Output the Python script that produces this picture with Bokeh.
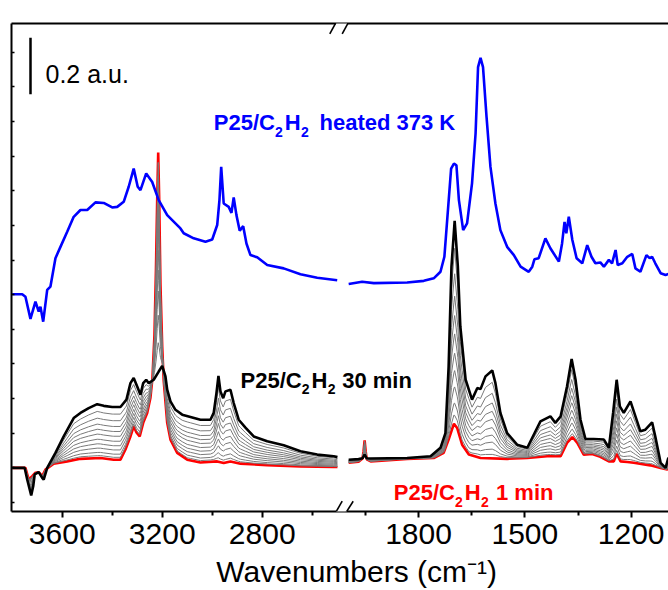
import numpy as np
from bokeh.plotting import figure
from bokeh.models import Range1d, LinearAxis, FixedTicker, Label, Arrow
from bokeh.embed import file_html
from bokeh.resources import INLINE

# ---------------- data (wavenumber in cm-1, absorbance in a.u.) ----------------
# left window (3800-2500 cm-1)
blue_l_wn = [3800, 3760, 3747, 3727, 3707, 3694, 3687, 3676, 3660, 3647, 3627, 3607, 3580, 3554,
             3527, 3500, 3467, 3434, 3400, 3380, 3354, 3334, 3314, 3298, 3287, 3264, 3240, 3214,
             3180, 3127, 3114, 3074, 3027, 3000, 2980, 2971, 2964, 2954, 2934, 2923, 2914, 2903,
             2890, 2876, 2863, 2847, 2820, 2780, 2714, 2647, 2580, 2500]
blue_l_ab = [0.765, 0.765, 0.756, 0.678, 0.739, 0.704, 0.721, 0.668, 0.780, 0.792, 0.892, 0.932, 0.985, 1.038,
             1.062, 1.062, 1.089, 1.087, 1.071, 1.073, 1.091, 1.144, 1.208, 1.144, 1.132, 1.191, 1.161, 1.097,
             1.044, 0.997, 0.980, 0.962, 0.950, 0.958, 1.009, 1.097, 1.214, 1.085, 1.073, 1.052, 1.106, 1.044,
             0.989, 1.005, 0.944, 0.903, 0.895, 0.868, 0.856, 0.835, 0.823, 0.814]

red_l_wn = [3800, 3747, 3734, 3720, 3707, 3694, 3680, 3667, 3634, 3580, 3527, 3447, 3394, 3367,
            3347, 3327, 3314, 3303, 3290, 3276, 3260, 3247, 3239, 3231, 3225, 3220, 3216, 3212,
            3207, 3200, 3194, 3180, 3167, 3140, 3100, 3047, 2980, 2954, 2927, 2887, 2780, 2647,
            2514, 2499]
red_l_ab = [0.152, 0.152, 0.111, 0.123, 0.135, 0.137, 0.123, 0.146, 0.167, 0.175, 0.184, 0.187, 0.181, 0.181,
            0.217, 0.263, 0.299, 0.277, 0.263, 0.311, 0.346, 0.400, 0.470, 0.620, 0.850, 1.100, 1.265, 1.100,
            0.800, 0.580, 0.460, 0.311, 0.252, 0.205, 0.181, 0.171, 0.175, 0.169, 0.175, 0.167, 0.162, 0.157,
            0.155, 0.155]

black_l_wn = [3800, 3750, 3740, 3724, 3716, 3710, 3694, 3680, 3674, 3660, 3627, 3594, 3554, 3527,
              3494, 3460, 3434, 3400, 3367, 3343, 3327, 3314, 3300, 3287, 3276, 3264, 3254, 3234,
              3214, 3200, 3187, 3180, 3167, 3147, 3120, 3087, 3047, 3007, 2994, 2983, 2975, 2967,
              2956, 2947, 2927, 2914, 2894, 2867, 2834, 2780, 2714, 2647, 2580, 2514, 2499]
black_l_ab = [0.152, 0.152, 0.111, 0.055, 0.087, 0.129, 0.137, 0.117, 0.111, 0.152, 0.205, 0.263, 0.328, 0.346,
              0.363, 0.377, 0.371, 0.367, 0.367, 0.393, 0.451, 0.469, 0.439, 0.410, 0.451, 0.463, 0.451, 0.463,
              0.492, 0.512, 0.475, 0.428, 0.387, 0.357, 0.340, 0.332, 0.322, 0.322, 0.346, 0.416, 0.477, 0.422,
              0.398, 0.422, 0.428, 0.381, 0.322, 0.294, 0.263, 0.246, 0.232, 0.211, 0.199, 0.193, 0.190]

# right window (2000-1095 cm-1)
blue_r_wn = [1997, 1959, 1926, 1832, 1785, 1757, 1738, 1727, 1708, 1700, 1693, 1686, 1674, 1663,
             1649, 1639, 1632, 1625, 1618, 1608, 1597, 1583, 1569, 1550, 1531, 1512, 1489, 1479,
             1473, 1461, 1442, 1428, 1404, 1395, 1388, 1383, 1376, 1366, 1354, 1338, 1324, 1312,
             1301, 1287, 1277, 1263, 1254, 1244, 1238, 1225, 1211, 1197, 1188, 1174, 1157, 1148,
             1141, 1132, 1117, 1103, 1095]
blue_r_ab = [0.801, 0.809, 0.804, 0.806, 0.812, 0.821, 0.844, 0.897, 1.208, 1.226, 1.220, 1.097, 0.991, 1.015,
             1.156, 1.332, 1.566, 1.599, 1.566, 1.390, 1.214, 1.085, 0.991, 0.932, 0.903, 0.862, 0.844, 0.862,
             0.888, 0.892, 0.962, 0.927, 0.880, 0.944, 1.020, 0.980, 1.038, 0.956, 0.892, 0.874, 0.938, 0.897,
             0.874, 0.877, 0.862, 0.886, 0.874, 0.921, 0.868, 0.874, 0.897, 0.907, 0.856, 0.844, 0.903, 0.892,
             0.897, 0.874, 0.839, 0.833, 0.836]

red_r_wn = [1997, 1969, 1958, 1955, 1952, 1949, 1946, 1935, 1832, 1757, 1729, 1715, 1700, 1691,
            1677, 1658, 1625, 1550, 1493, 1437, 1399, 1381, 1366, 1352, 1334, 1310, 1287, 1263,
            1249, 1241, 1230, 1211, 1193, 1146, 1117, 1098, 1095]
red_r_ab = [0.170, 0.174, 0.185, 0.210, 0.249, 0.210, 0.182, 0.175, 0.184, 0.187, 0.205, 0.252, 0.308, 0.293,
            0.234, 0.199, 0.187, 0.184, 0.187, 0.193, 0.193, 0.240, 0.261, 0.240, 0.199, 0.201, 0.191, 0.175,
            0.175, 0.202, 0.175, 0.173, 0.170, 0.161, 0.152, 0.146, 0.150]

black_r_wn = [1997, 1969, 1958, 1952, 1946, 1935, 1832, 1766, 1738, 1724, 1715, 1707, 1698, 1689,
              1682, 1667, 1649, 1634, 1625, 1611, 1592, 1583, 1569, 1550, 1522, 1493, 1484, 1456,
              1428, 1414, 1399, 1381, 1368, 1357, 1343, 1329, 1306, 1277, 1263, 1251, 1241, 1232,
              1221, 1202, 1188, 1174, 1160, 1141, 1132, 1117, 1103, 1095]
black_r_ab = [0.181, 0.183, 0.186, 0.199, 0.186, 0.185, 0.187, 0.193, 0.223, 0.275, 0.510, 0.862, 1.024, 0.862,
              0.651, 0.463, 0.393, 0.434, 0.430, 0.475, 0.496, 0.451, 0.346, 0.275, 0.234, 0.223, 0.246, 0.316,
              0.334, 0.311, 0.334, 0.439, 0.536, 0.463, 0.322, 0.254, 0.254, 0.252, 0.223, 0.346, 0.463, 0.369,
              0.346, 0.387, 0.334, 0.281, 0.287, 0.313, 0.263, 0.170, 0.152, 0.188]

# intermediate spectra (grey): fraction of the way from the 1 min to the 30 min spectrum,
# read at 3450 cm-1
grey_frac = [0.045, 0.105, 0.185, 0.265, 0.35, 0.445, 0.535, 0.63, 0.74, 0.865]

# axis ticks
left_ticks = [3600, 3200, 2800]
left_minor = [3400, 3000, 2600]
right_ticks = [1800, 1500, 1200]
right_minor = [1950, 1650, 1350]
y_ticks = [round(0.030 + 0.1222 * k, 4) for k in range(14)]

x_title = "\u00a0\u00a0\u00a0\u00a0Wavenumbers (cm\u207b\u00b9)"
scale_bar = 0.2  # a.u.

# ---------------- layout constants ----------------
FONT = "Liberation Sans"
XL = (3802.8, 1174.8)      # left-window scale spread over whole frame
XR = (2948.15, 1094.75)    # right-window scale spread over whole frame
YR = (-0.0018, 1.7201)


def px2x(px):
    return XL[0] + (px - 11.0) * (XL[1] - XL[0]) / 657.0


def py2y(py):
    return YR[0] + (512.0 - py) * (YR[1] - YR[0]) / 489.0


def r2l(w):
    return round(XL[0] + (w - XR[0]) * (XL[1] - XL[0]) / (XR[1] - XR[0]), 3)


p = figure(width=668, height=590, x_range=Range1d(*XL), y_range=Range1d(*YR),
           output_backend="svg", toolbar_location=None,
           x_axis_location=None, y_axis_location=None,
           min_border_left=11, min_border_right=0, min_border_top=23, min_border_bottom=78)
p.extra_x_ranges = {"r": Range1d(*XR)}
p.outline_line_color = None
p.background_fill_color = "white"
p.border_fill_color = "white"
p.grid.grid_line_color = None

# ---------------- axes ----------------
maj = [float(t) for t in left_ticks] + [r2l(t) for t in right_ticks]
mnr = [float(t) for t in left_minor] + [r2l(t) for t in right_minor]
overrides = {float(t): str(t) for t in left_ticks}
overrides.update({r2l(t): str(t) for t in right_ticks})
xb = LinearAxis(ticker=FixedTicker(ticks=maj, minor_ticks=mnr), major_label_overrides=overrides,
                axis_line_width=2, major_tick_line_width=2, minor_tick_line_width=2,
                major_tick_in=0, major_tick_out=6, minor_tick_in=0, minor_tick_out=4,
                major_label_text_font=FONT, major_label_text_font_size="30px",
                major_label_standoff=6, major_label_text_color="black",
                axis_label=x_title, axis_label_text_font=FONT, axis_label_text_font_size="30px",
                axis_label_text_font_style="normal", axis_label_text_color="black",
                axis_label_standoff=8)
p.add_layout(xb, "below")

xt = LinearAxis(ticker=FixedTicker(ticks=[]), axis_line_width=2,
                major_tick_in=0, major_tick_out=0, minor_tick_in=0, minor_tick_out=0,
                major_label_text_font_size="0px", major_label_standoff=0)
p.add_layout(xt, "above")

yl = LinearAxis(ticker=FixedTicker(ticks=y_ticks, minor_ticks=[]), axis_line_width=2,
                major_tick_line_width=1.5, major_tick_in=3, major_tick_out=0,
                minor_tick_in=0, minor_tick_out=0,
                major_label_overrides={t: "" for t in y_ticks},
                major_label_text_font_size="0px", major_label_standoff=0)
p.add_layout(yl, "left")

# ---------------- spectra ----------------
def grey_set(rw, ra, bw, ba):
    grid = np.union1d(rw, bw)
    r = np.interp(grid, rw[::-1], ra[::-1])
    b = np.interp(grid, bw[::-1], ba[::-1])
    return grid, [r + f * (b - r) for f in grey_frac]


for rw, ra, bw, ba, rng in [(red_l_wn, red_l_ab, black_l_wn, black_l_ab, "default"),
                            (red_r_wn, red_r_ab, black_r_wn, black_r_ab, "r")]:
    p.line(rw, ra, line_color="#ff0000", line_width=2.6, x_range_name=rng)
    g, curves = grey_set(np.array(rw, float), np.array(ra), np.array(bw, float), np.array(ba))
    for c in curves:
        p.line(g, c, line_color="#7a7a7a", line_width=1, x_range_name=rng)
    p.line(bw, ba, line_color="black", line_width=2.6, x_range_name=rng)

p.line(blue_l_wn, blue_l_ab, line_color="#0000ff", line_width=2.6)
p.line(blue_r_wn, blue_r_ab, line_color="#0000ff", line_width=2.6, x_range_name="r")

# scale bar
sb_y0 = py2y(94)
p.segment(x0=[px2x(30)], y0=[sb_y0], x1=[px2x(30)], y1=[sb_y0 + scale_bar],
          line_color="black", line_width=2.5)

# ---------------- texts ----------------
def txt(s, px, py, size, color="black", bold=False):
    p.add_layout(Label(x=px2x(px), y=py2y(py), text=s, text_font=FONT,
                       text_font_size=f"{size}px", text_color=color,
                       text_font_style="bold" if bold else "normal",
                       text_baseline="alphabetic", text_align="left"))


txt("0.2 a.u.", 45, 73.3, 25)

def formula(px, py, color, tail, tail_px):
    txt("P25/C", px, py, 22, color, True)
    txt("2", px + 61.3, py + 9, 14, color, True)
    txt("H", px + 71, py, 22, color, True)
    txt("2", px + 87.2, py + 9, 14, color, True)
    txt(tail, tail_px, py, 22, color, True)

formula(213.3, 122.5, "#0000ff", "heated 373 K", 319)
formula(240, 380.5, "black", "30 min", 341.7)
formula(393.3, 493.3, "#ff0000", "1 min", 495.5)

# ---------------- axis break marks ----------------
for (y_line, a0, a1, b0, b1, c0, c1) in [(23.0, 329.3, 339.3, 341.7, 351.7, 33.3, 15.0),
                                         (512.0, 330.7, 341.7, 340.7, 352.7, 520.7, 501.7)]:
    p.add_layout(Arrow(end=None, x_start=px2x(335.5), x_end=px2x(346.5),
                       y_start=py2y(y_line), y_end=py2y(y_line),
                       line_color="white", line_width=5))
    p.add_layout(Arrow(end=None, x_start=px2x(a0), x_end=px2x(a1),
                       y_start=py2y(c0), y_end=py2y(c1), line_color="black", line_width=1.6))
    p.add_layout(Arrow(end=None, x_start=px2x(b0), x_end=px2x(b1),
                       y_start=py2y(c0), y_end=py2y(c1), line_color="black", line_width=1.6))

open("out.html", "w").write(file_html(p, INLINE))
